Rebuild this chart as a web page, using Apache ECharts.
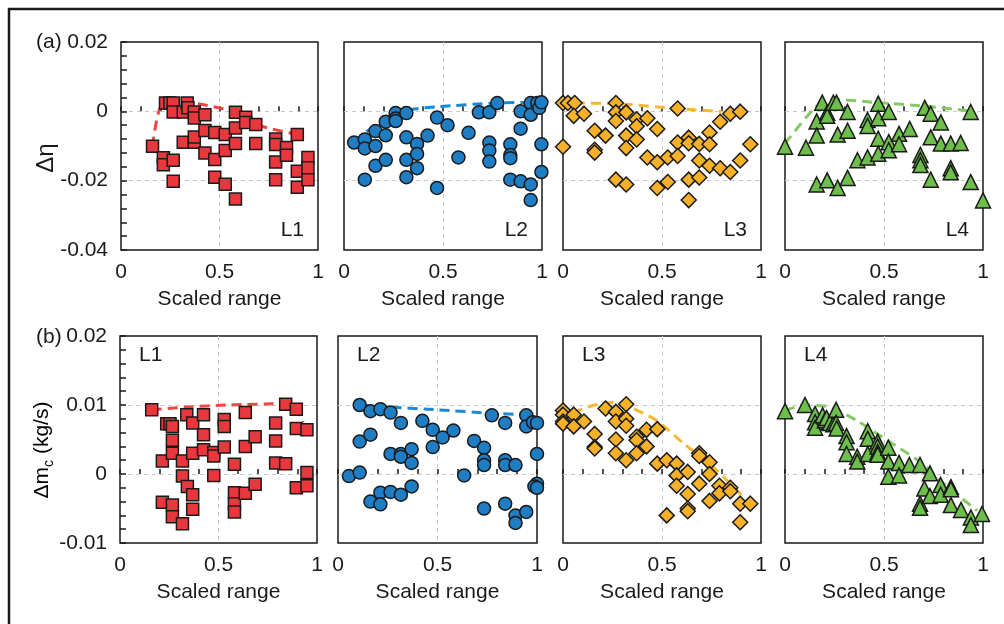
<!DOCTYPE html>
<html>
<head>
<meta charset="utf-8">
<title>Scaled range scatter</title>
<script src="https://cdn.jsdelivr.net/npm/echarts@6/dist/echarts.min.js"></script>
<style>
html, body { margin: 0; padding: 0; background: #fff; }
#chart { width: 1004px; height: 624px; }
</style>
</head>
<body>
<div id="chart"></div>
<script>
// (a) delta eta vs scaled range, one list per line L1..L4  [x, y]
const etaL1 = [[0.16,-0.0101],[0.215,-0.0134],[0.215,-0.0154],[0.265,-0.0141],[0.265,-0.0202],[0.226,0.0024],[0.248,0.0024],[0.265,0.0024],[0.265,-0.0002],[0.316,-0.0002],[0.336,0.0024],[0.34,0.001],[0.372,-0.0002],[0.372,-0.0019],[0.426,-0.001],[0.316,-0.0089],[0.372,-0.0089],[0.372,-0.0074],[0.426,-0.0055],[0.426,-0.012],[0.476,-0.0061],[0.476,-0.0139],[0.476,-0.019],[0.529,-0.0067],[0.529,-0.0113],[0.529,-0.021],[0.581,-0.0003],[0.581,-0.0048],[0.581,-0.0093],[0.581,-0.0253],[0.633,-0.0017],[0.633,-0.0032],[0.684,-0.0038],[0.684,-0.0093],[0.785,-0.008],[0.785,-0.0096],[0.785,-0.0146],[0.785,-0.0197],[0.84,-0.0104],[0.84,-0.0127],[0.895,-0.0067],[0.895,-0.0173],[0.895,-0.0219],[0.949,-0.0133],[0.949,-0.0163],[0.949,-0.0197]];
const etaL1Env = [[0.16,-0.0101],[0.215,0.0024],[0.34,0.0024],[0.58,-0.0003],[0.684,-0.0038],[0.895,-0.0067]];

const etaL2 = [[0.051,-0.009],[0.105,-0.0081],[0.105,-0.0107],[0.105,-0.0197],[0.159,-0.0057],[0.159,-0.01],[0.159,-0.0157],[0.211,-0.003],[0.211,-0.0069],[0.211,-0.014],[0.261,-0.0005],[0.261,-0.0021],[0.261,-0.0028],[0.315,-0.0005],[0.315,-0.0075],[0.315,-0.014],[0.315,-0.019],[0.369,-0.0094],[0.369,-0.0123],[0.369,-0.0164],[0.422,-0.007],[0.47,-0.0018],[0.47,-0.0221],[0.523,-0.004],[0.578,-0.0133],[0.629,-0.0062],[0.681,-0.0003],[0.734,-0.0003],[0.734,-0.009],[0.734,-0.0113],[0.734,-0.0145],[0.774,0.0024],[0.84,-0.0095],[0.84,-0.0126],[0.84,-0.0135],[0.84,-0.0197],[0.892,0],[0.892,-0.005],[0.892,-0.0202],[0.943,0.0024],[0.943,-0.001],[0.943,-0.0211],[0.943,-0.0256],[0.976,0.0024],[0.986,0.001],[0.997,0.0026],[0.997,-0.0095],[0.997,-0.0175]];
const etaL2Env = [[0.113,-0.0059],[0.211,-0.0022],[0.315,0.0003],[0.47,0.0013],[0.774,0.0024],[0.997,0.0026]];

const etaL3 = [[0,0.0024],[0,-0.0102],[0.025,0.0024],[0.059,0.0024],[0.054,-0.0013],[0.106,-0.0007],[0.16,-0.0056],[0.16,-0.0111],[0.16,-0.0119],[0.215,-0.007],[0.267,0.0024],[0.267,-0.0003],[0.267,-0.0028],[0.267,-0.0197],[0.319,-0.0003],[0.319,-0.007],[0.319,-0.0106],[0.319,-0.0211],[0.372,-0.0023],[0.372,-0.0043],[0.372,-0.0081],[0.426,-0.002],[0.426,-0.0133],[0.476,-0.0051],[0.476,-0.0147],[0.476,-0.0221],[0.529,-0.0133],[0.529,-0.0204],[0.579,0.0008],[0.579,-0.009],[0.579,-0.0129],[0.635,-0.0076],[0.635,-0.0092],[0.635,-0.0197],[0.635,-0.0256],[0.688,-0.0094],[0.688,-0.0142],[0.688,-0.0191],[0.74,-0.0061],[0.74,-0.0095],[0.74,-0.0157],[0.794,-0.003],[0.794,-0.0164],[0.845,-0.0007],[0.845,-0.0175],[0.895,-0.0001],[0.895,-0.0142],[0.946,-0.0095]];
const etaL3Env = [[0.06,0.0024],[0.267,0.0022],[0.579,0.0008],[0.8,-0.0001]];

const etaL4 = [[0,-0.0102],[0.106,-0.0105],[0.16,-0.0029],[0.16,-0.007],[0.16,-0.0211],[0.188,0.0025],[0.213,-0.0004],[0.213,-0.0013],[0.213,-0.0199],[0.244,0.0025],[0.26,0.0025],[0.266,-0.0067],[0.266,-0.0221],[0.316,-0.0002],[0.316,-0.0056],[0.316,-0.0192],[0.366,-0.0141],[0.417,-0.0025],[0.417,-0.0042],[0.417,-0.0133],[0.471,0.0022],[0.471,-0.002],[0.471,-0.0079],[0.471,-0.0122],[0.524,-0.0002],[0.524,-0.0089],[0.524,-0.0112],[0.576,-0.0065],[0.576,-0.0095],[0.63,-0.0051],[0.684,-0.0126],[0.684,-0.0141],[0.684,-0.0155],[0.706,0.001],[0.736,-0.0007],[0.736,-0.0075],[0.736,-0.0197],[0.787,-0.0032],[0.787,-0.0093],[0.837,-0.0093],[0.837,-0.0164],[0.837,-0.0176],[0.887,-0.0091],[0.938,-0.0002],[0.938,-0.0204],[1.0,-0.0257]];
const etaL4Env = [[0,-0.0093],[0.16,0.0015],[0.25,0.0034],[0.47,0.0025],[0.706,0.0015],[0.938,0.0001]];

// (b) delta m_c (kg/s) vs scaled range
const mcL1 = [[0.161,0.0093],[0.215,0.0019],[0.215,-0.0041],[0.237,0.0073],[0.254,0.0073],[0.266,0.0069],[0.266,0.0049],[0.266,0.003],[0.266,-0.0045],[0.266,-0.0062],[0.317,0.0019],[0.317,-0.0003],[0.317,-0.0072],[0.339,0.0086],[0.342,-0.0018],[0.369,0.0074],[0.369,0.003],[0.369,-0.003],[0.369,-0.0051],[0.424,0.0086],[0.424,0.0057],[0.424,0.0035],[0.476,0.0031],[0.476,0.0026],[0.476,-0.0002],[0.529,0.0079],[0.529,0.0069],[0.529,0.0039],[0.581,0.0014],[0.581,-0.0027],[0.581,-0.0043],[0.581,-0.0055],[0.636,0.0089],[0.636,0.004],[0.636,-0.0028],[0.686,0.0054],[0.686,-0.0015],[0.79,0.0074],[0.79,0.0048],[0.79,0.0016],[0.841,0.0101],[0.841,0.0015],[0.895,0.0094],[0.895,0.0066],[0.895,-0.002],[0.949,0.0064],[0.949,0.0002],[0.949,-0.0017]];
const mcL1Env = [[0.161,0.0093],[0.339,0.0097],[0.55,0.01],[0.841,0.0102],[0.895,0.0094],[0.93,0.0075]];

const mcL2 = [[0.055,-0.0003],[0.109,0.01],[0.109,0.0047],[0.109,0.0002],[0.163,0.0091],[0.163,0.0057],[0.163,-0.004],[0.213,0.0094],[0.213,-0.0027],[0.213,-0.0044],[0.264,0.0089],[0.264,0.0029],[0.264,-0.0026],[0.316,0.0074],[0.316,0.0029],[0.316,0.0025],[0.316,-0.003],[0.37,0.0036],[0.37,0.0016],[0.37,-0.0018],[0.424,0.0077],[0.476,0.0064],[0.476,0.0039],[0.526,0.0053],[0.58,0.0063],[0.634,-0.0002],[0.684,0.0048],[0.734,0.0038],[0.734,0.002],[0.734,0.0013],[0.734,-0.005],[0.773,0.0085],[0.84,0.0074],[0.84,0.002],[0.84,0.0013],[0.84,-0.0043],[0.892,0.0013],[0.892,-0.006],[0.892,-0.0071],[0.946,0.0085],[0.946,0.0069],[0.946,-0.0055],[0.98,0.0075],[1.0,0.0074],[1.0,0.0029],[1.0,-0.0014],[0.987,-0.0018],[1.0,-0.002]];
const mcL2Env = [[0.109,0.01],[0.264,0.0097],[0.5,0.0093],[0.773,0.0088],[0.946,0.0085],[1.0,0.0078]];

const mcL3 = [[0,0.0092],[0,0.0086],[0,0.0076],[0,0.0073],[0.054,0.0086],[0.054,0.0069],[0.106,0.0076],[0.16,0.0058],[0.16,0.0039],[0.16,0.0037],[0.215,0.0095],[0.267,0.009],[0.267,0.0076],[0.267,0.005],[0.267,0.003],[0.319,0.0101],[0.319,0.008],[0.319,0.007],[0.319,0.002],[0.372,0.0054],[0.372,0.0049],[0.372,0.003],[0.422,0.0064],[0.422,0.004],[0.476,0.0065],[0.476,0.0015],[0.524,0.002],[0.524,-0.006],[0.574,0.0015],[0.574,-0.0002],[0.574,-0.0017],[0.63,0.0003],[0.63,-0.0029],[0.63,-0.005],[0.63,-0.0054],[0.688,0.003],[0.688,0.0026],[0.688,-0.0014],[0.74,0.0017],[0.74,0],[0.74,-0.0039],[0.79,-0.0017],[0.79,-0.0028],[0.845,-0.002],[0.845,-0.0025],[0.895,-0.0043],[0.895,-0.007],[0.946,-0.0043]];
const mcL3Env = [[0.05,0.0089],[0.16,0.01],[0.27,0.0104],[0.33,0.0098],[0.47,0.0078],[0.61,0.0044],[0.74,0.0015],[0.9,-0.003]];

const mcL4 = [[0,0.0091],[0.101,0.01],[0.152,0.0087],[0.152,0.0075],[0.152,0.0067],[0.19,0.0085],[0.202,0.0078],[0.21,0.0081],[0.227,0.0074],[0.244,0.0072],[0.258,0.0093],[0.258,0.0074],[0.261,0.0066],[0.311,0.0055],[0.311,0.0046],[0.311,0.0029],[0.365,0.0025],[0.365,0.0018],[0.418,0.0062],[0.418,0.0051],[0.418,0.0029],[0.468,0.0047],[0.468,0.004],[0.468,0.0032],[0.468,0.0028],[0.522,0.0038],[0.522,0.0018],[0.522,-0.0004],[0.576,0.0016],[0.576,-0.0002],[0.628,0.0013],[0.682,0.0013],[0.682,-0.0043],[0.682,-0.0049],[0.704,-0.0021],[0.732,0.0001],[0.732,-0.0032],[0.786,-0.0016],[0.786,-0.003],[0.838,-0.0019],[0.838,-0.0022],[0.838,-0.0045],[0.889,-0.0052],[0.939,-0.0063],[0.939,-0.0074],[0.995,-0.0058]];
const mcL4Env = [[0,0.0092],[0.101,0.01],[0.21,0.0098],[0.258,0.0093],[0.36,0.0078],[0.52,0.0048],[0.68,0.0018],[0.79,-0.0011],[0.87,-0.003],[0.97,-0.0053]];

const lineNames = ['L1', 'L2', 'L3', 'L4'];
const xTicks = [0, 0.5, 1];
const etaTicks = [-0.04, -0.02, 0, 0.02];
const mcTicks = [-0.01, 0, 0.01, 0.02];

const FONT = 'Liberation Sans, Arial, Helvetica, sans-serif';
const INK = '#1a1a1a';

// marker look per line: squares, circles, diamonds, triangles
const looks = [
    { symbol: 'rect',     size: 12, fill: '#E8383D', dash: '#EE4545' },
    { symbol: 'circle',   size: 13, fill: '#1F7DC4', dash: '#1E88D2' },
    { symbol: 'diamond',  size: 15, fill: '#F6B128', dash: '#F8B733' },
    { symbol: 'triangle', size: 15, fill: '#6DBE4B', dash: '#86C865' }
];

const rows = [
    { data: [etaL1, etaL2, etaL3, etaL4], env: [etaL1Env, etaL2Env, etaL3Env, etaL4Env], ticks: etaTicks, minor: 5 },
    { data: [mcL1, mcL2, mcL3, mcL4], env: [mcL1Env, mcL2Env, mcL3Env, mcL4Env], ticks: mcTicks, minor: 5 }
];

// panel boxes [left, top, width, height]
const boxes = [
    [121, 42, 197, 208], [344, 42, 198, 208], [563, 42, 198, 208], [785, 42, 198, 208],
    [120, 336, 197, 207], [338, 336, 199, 207], [563, 336, 198, 207], [785, 336, 198, 207]
];

var myChart = echarts.init(document.getElementById('chart'), null, { renderer: 'canvas' });

const grids = [], xAxes = [], yAxes = [], series = [], texts = [];
const dashGrid = { show: true, showMinLine: false, showMaxLine: false, lineStyle: { color: '#c9c9c9', type: [4, 4], width: 1 } };

rows.forEach(function (row, r) {
    const step = row.ticks[1] - row.ticks[0];
    for (let c = 0; c < 4; c++) {
        const i = r * 4 + c;
        const b = boxes[i];
        const look = looks[c];
        grids.push({
            left: b[0], top: b[1], width: b[2], height: b[3],
            show: true, borderColor: INK, borderWidth: 1.5,
            backgroundColor: 'transparent',
            outerBoundsMode: 'none'
        });
        xAxes.push({
            gridIndex: i, type: 'value',
            min: xTicks[0], max: xTicks[xTicks.length - 1], interval: xTicks[1] - xTicks[0],
            axisLine: { show: false },
            axisTick: { show: true, inside: true, length: 5, lineStyle: { color: INK, width: 1.5 } },
            minorTick: { show: true, splitNumber: 5, length: 5, lineStyle: { color: INK, width: 1.5 } },
            axisLabel: { show: true, margin: 12, fontSize: 21, fontFamily: FONT, color: INK },
            splitLine: dashGrid
        });
        yAxes.push({
            gridIndex: i, type: 'value',
            min: row.ticks[0], max: row.ticks[row.ticks.length - 1], interval: step,
            axisLine: { show: false },
            axisTick: { show: c === 0, inside: true, length: 6, lineStyle: { color: INK, width: 1.5 } },
            minorTick: { show: c === 0, splitNumber: row.minor, length: 6, lineStyle: { color: INK, width: 1.5 } },
            axisLabel: { show: c === 0, margin: 13, fontSize: 21, fontFamily: FONT, color: INK },
            splitLine: dashGrid
        });
        series.push({
            type: 'line', xAxisIndex: i, yAxisIndex: i,
            data: row.env[c], showSymbol: false, symbol: 'none', smooth: 0.25,
            lineStyle: { color: look.dash, width: 3, type: [10, 6] },
            silent: true, z: 2, clip: false
        });
        series.push({
            type: 'scatter', xAxisIndex: i, yAxisIndex: i,
            data: row.data[c], symbol: look.symbol, symbolSize: look.size,
            itemStyle: { color: look.fill, borderColor: INK, borderWidth: 1.5, opacity: 1 },
            z: 3, clip: false
        });
        // "Scaled range" under every panel
        texts.push({
            type: 'text',
            style: {
                text: 'Scaled range', x: b[0] + b[2] / 2, y: b[1] + b[3] + 49,
                align: 'center', verticalAlign: 'middle',
                font: '21px ' + FONT, fill: INK
            }
        });
        // panel line label
        texts.push({
            type: 'text',
            style: r === 0
                ? { text: lineNames[c], x: b[0] + b[2] - 14, y: b[1] + b[3] - 20, align: 'right', verticalAlign: 'middle', font: '21px ' + FONT, fill: INK }
                : { text: lineNames[c], x: b[0] + 19, y: b[1] + 19, align: 'left', verticalAlign: 'middle', font: '21px ' + FONT, fill: INK }
        });
    }
});

texts.push(
    { type: 'rect', shape: { x: 9, y: 9, width: 1010, height: 630 }, style: { fill: 'none', stroke: INK, lineWidth: 2.5 }, z: 0 },
    { type: 'text', style: { text: '(a)', x: 36, y: 42, verticalAlign: 'middle', font: '21px ' + FONT, fill: INK } },
    { type: 'text', style: { text: '(b)', x: 36, y: 337, verticalAlign: 'middle', font: '21px ' + FONT, fill: INK } },
    { type: 'text', x: 46, y: 158, rotation: Math.PI / 2,
      style: { text: 'Δη', align: 'center', verticalAlign: 'middle', font: '24px ' + FONT, fill: INK } },
    { type: 'text', x: 42, y: 450, rotation: Math.PI / 2,
      style: {
          text: '{t|Δm}{s|c}{t| (kg/s)}', align: 'center', verticalAlign: 'middle',
          rich: {
              t: { fontSize: 21, fontFamily: FONT, color: INK, lineHeight: 28, verticalAlign: 'middle' },
              s: { fontSize: 14, fontFamily: FONT, color: INK, lineHeight: 28, verticalAlign: 'bottom' }
          }
      } }
);

myChart.setOption({
    animation: false,
    backgroundColor: '#fff',
    grid: grids,
    xAxis: xAxes,
    yAxis: yAxes,
    series: series,
    graphic: { elements: texts }
});
</script>
</body>
</html>
